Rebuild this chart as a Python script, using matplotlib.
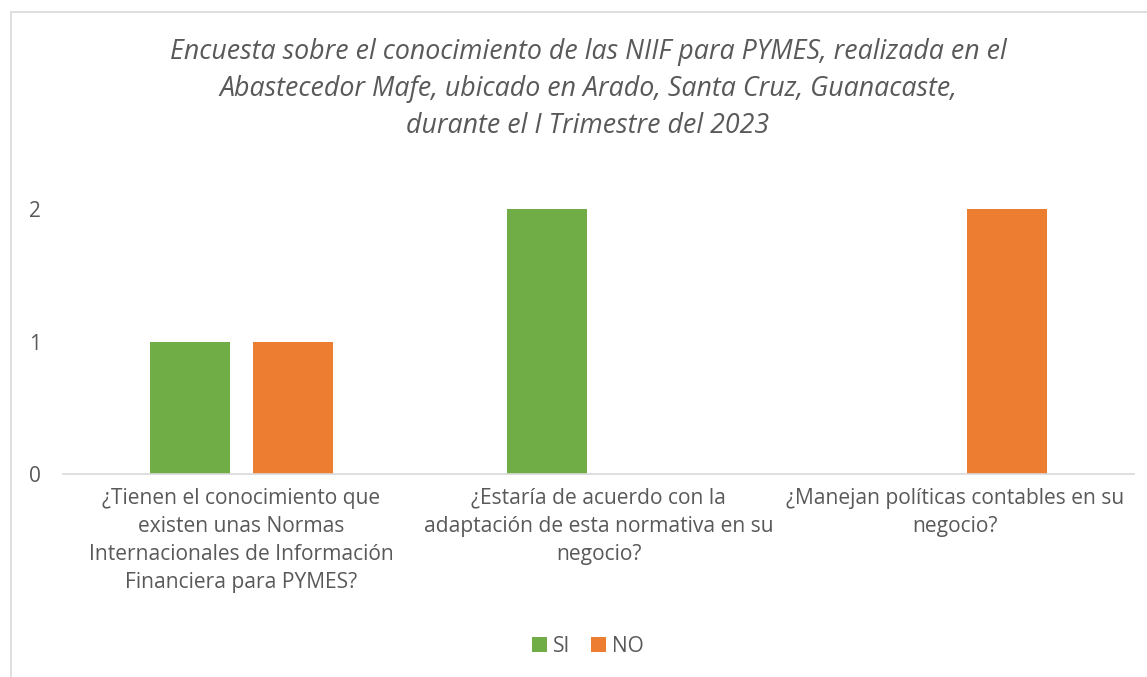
import matplotlib.pyplot as plt
from matplotlib.patches import Rectangle
import numpy as np

# survey data
preguntas = [
    "¿Tienen el conocimiento que\nexisten unas Normas\nInternacionales de Información\nFinanciera para PYMES?",
    "¿Estaría de acuerdo con la\nadaptación de esta normativa en su\nnegocio?",
    "¿Manejan políticas contables en su\nnegocio?",
]
si = [1, 2, 0]
no = [1, 0, 2]
titulo = ("Encuesta sobre el conocimiento de las NIIF para PYMES, realizada en el\n"
          "Abastecedor Mafe, ubicado en Arado, Santa Cruz, Guanacaste,\n"
          "durante el I Trimestre del 2023")

plt.rcParams['font.family'] = ['Open Sans', 'DejaVu Sans']
gris = '#595959'

fig = plt.figure(figsize=(11.47, 6.77), dpi=100)
ax = fig.add_axes([63/1147, 1 - 474/677, (1134 - 63)/1147, (474 - 209)/677])

x = np.arange(len(preguntas))
w = 0.224
ax.bar(x - 0.143, si, w, color='#70AD47', label='SI')
ax.bar(x + 0.143, no, w, color='#ED7D31', label='NO')

ax.set_xlim(-0.5, 2.5)
ax.set_ylim(0, 2)
ax.set_yticks([0, 1, 2])
ax.set_xticks(x)
ax.set_xticklabels(preguntas, fontsize=15.1, color=gris, linespacing=1.45)
ax.tick_params(axis='y', labelsize=15, labelcolor=gris, length=0, pad=16)
ax.tick_params(axis='x', length=0, pad=10)
for s in ['top', 'right', 'left']:
    ax.spines[s].set_visible(False)
ax.spines['bottom'].set_color('#D9D9D9')
ax.spines['bottom'].set_linewidth(1.2)

fig.text(588/1147, 1 - 89/677, titulo, ha='center', va='center', fontsize=19.3,
         style='italic', color=gris, linespacing=1.42)

fig.legend(loc='center', bbox_to_anchor=(588/1147, 1 - 646/677), ncol=2, frameon=False,
           fontsize=15, labelcolor=gris, handlelength=0.7, handleheight=0.7,
           handletextpad=0.3, columnspacing=1.0)

fig.patches.append(Rectangle((11/1147, -0.1), 1.2, 1 - 12/677 + 0.1, transform=fig.transFigure,
                             fill=False, edgecolor='#D9D9D9', linewidth=1.2))

fig.savefig('out.png', dpi=100)
